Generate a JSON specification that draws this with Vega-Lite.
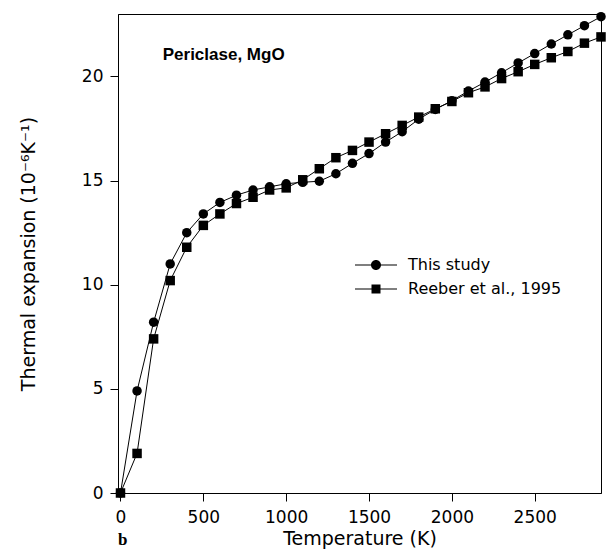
{
  "$schema": "https://vega.github.io/schema/vega-lite/v6.json",
  "width": 483,
  "height": 479,
  "autosize": {"type": "none"},
  "padding": {"left": 118, "top": 14, "right": 6, "bottom": 56},
  "background": "white",
  "title": {"text": "b", "orient": "bottom", "anchor": "start", "frame": "group", "font": "Liberation Serif", "fontWeight": "bold", "fontSize": 17, "color": "black", "dy": -20},
  "config": {
    "view": {"stroke": "black", "strokeWidth": 1},
    "axis": {"domainColor": "black", "tickColor": "black", "labelColor": "black", "titleColor": "black", "grid": false, "labelFont": "DejaVu Sans", "labelFontSize": 17, "titleFont": "DejaVu Sans", "titleFontWeight": "normal", "tickSize": 8}
  },
  "datasets": {
    "pts": [
    {"T": 0, "a": 0, "series": "This study"},
    {"T": 100, "a": 4.9, "series": "This study"},
    {"T": 200, "a": 8.2, "series": "This study"},
    {"T": 300, "a": 11.0, "series": "This study"},
    {"T": 400, "a": 12.5, "series": "This study"},
    {"T": 500, "a": 13.4, "series": "This study"},
    {"T": 600, "a": 13.95, "series": "This study"},
    {"T": 700, "a": 14.3, "series": "This study"},
    {"T": 800, "a": 14.55, "series": "This study"},
    {"T": 900, "a": 14.7, "series": "This study"},
    {"T": 1000, "a": 14.85, "series": "This study"},
    {"T": 1100, "a": 14.92, "series": "This study"},
    {"T": 1200, "a": 14.97, "series": "This study"},
    {"T": 1300, "a": 15.33, "series": "This study"},
    {"T": 1400, "a": 15.83, "series": "This study"},
    {"T": 1500, "a": 16.3, "series": "This study"},
    {"T": 1600, "a": 16.85, "series": "This study"},
    {"T": 1700, "a": 17.35, "series": "This study"},
    {"T": 1800, "a": 17.95, "series": "This study"},
    {"T": 1900, "a": 18.42, "series": "This study"},
    {"T": 2000, "a": 18.84, "series": "This study"},
    {"T": 2100, "a": 19.3, "series": "This study"},
    {"T": 2200, "a": 19.73, "series": "This study"},
    {"T": 2300, "a": 20.18, "series": "This study"},
    {"T": 2400, "a": 20.65, "series": "This study"},
    {"T": 2500, "a": 21.1, "series": "This study"},
    {"T": 2600, "a": 21.56, "series": "This study"},
    {"T": 2700, "a": 22.0, "series": "This study"},
    {"T": 2800, "a": 22.44, "series": "This study"},
    {"T": 2900, "a": 22.87, "series": "This study"},
    {"T": 0, "a": 0, "series": "Reeber et al., 1995"},
    {"T": 100, "a": 1.9, "series": "Reeber et al., 1995"},
    {"T": 200, "a": 7.4, "series": "Reeber et al., 1995"},
    {"T": 300, "a": 10.2, "series": "Reeber et al., 1995"},
    {"T": 400, "a": 11.8, "series": "Reeber et al., 1995"},
    {"T": 500, "a": 12.85, "series": "Reeber et al., 1995"},
    {"T": 600, "a": 13.4, "series": "Reeber et al., 1995"},
    {"T": 700, "a": 13.9, "series": "Reeber et al., 1995"},
    {"T": 800, "a": 14.2, "series": "Reeber et al., 1995"},
    {"T": 900, "a": 14.55, "series": "Reeber et al., 1995"},
    {"T": 1000, "a": 14.65, "series": "Reeber et al., 1995"},
    {"T": 1100, "a": 15.04, "series": "Reeber et al., 1995"},
    {"T": 1200, "a": 15.57, "series": "Reeber et al., 1995"},
    {"T": 1300, "a": 16.1, "series": "Reeber et al., 1995"},
    {"T": 1400, "a": 16.45, "series": "Reeber et al., 1995"},
    {"T": 1500, "a": 16.85, "series": "Reeber et al., 1995"},
    {"T": 1600, "a": 17.25, "series": "Reeber et al., 1995"},
    {"T": 1700, "a": 17.65, "series": "Reeber et al., 1995"},
    {"T": 1800, "a": 18.05, "series": "Reeber et al., 1995"},
    {"T": 1900, "a": 18.45, "series": "Reeber et al., 1995"},
    {"T": 2000, "a": 18.8, "series": "Reeber et al., 1995"},
    {"T": 2100, "a": 19.22, "series": "Reeber et al., 1995"},
    {"T": 2200, "a": 19.5, "series": "Reeber et al., 1995"},
    {"T": 2300, "a": 19.9, "series": "Reeber et al., 1995"},
    {"T": 2400, "a": 20.23, "series": "Reeber et al., 1995"},
    {"T": 2500, "a": 20.58, "series": "Reeber et al., 1995"},
    {"T": 2600, "a": 20.9, "series": "Reeber et al., 1995"},
    {"T": 2700, "a": 21.2, "series": "Reeber et al., 1995"},
    {"T": 2800, "a": 21.6, "series": "Reeber et al., 1995"},
    {"T": 2900, "a": 21.9, "series": "Reeber et al., 1995"}
    ],
    "labels": [{"label": "Periclase, MgO"}]
  },
  "resolve": {"scale": {"shape": "independent"}, "legend": {"shape": "independent"}},
  "layer": [
    {"data": {"name": "pts"}, "mark": {"type": "line", "color": "black", "strokeWidth": 1},
     "encoding": {
       "x": {"field": "T", "type": "quantitative", "scale": {"domain": [-15, 2900], "nice": false, "zero": false}, "axis": {"values": [0, 500, 1000, 1500, 2000, 2500], "format": "d", "title": "Temperature (K)", "titleFontSize": 19, "labelPadding": 8, "titlePadding": 4}},
       "y": {"field": "a", "type": "quantitative", "scale": {"domain": [0, 23], "nice": false}, "axis": {"values": [0, 5, 10, 15, 20], "title": "Thermal expansion (10⁻⁶K⁻¹)", "titleFontSize": 19, "labelPadding": 7, "titlePadding": 43}},
       "detail": {"field": "series"}}},
    {"data": {"name": "pts"}, "mark": {"type": "point", "filled": true, "color": "black", "opacity": 1, "size": 90},
     "encoding": {
       "x": {"field": "T", "type": "quantitative"},
       "y": {"field": "a", "type": "quantitative"},
       "shape": {"field": "series", "type": "nominal", "scale": {"domain": ["This study", "Reeber et al., 1995"], "range": ["circle", "square"]}, "legend": null}}},
    {"data": {"name": "pts"}, "transform": [{"filter": "false"}],
     "mark": {"type": "point", "filled": true, "color": "black", "opacity": 1},
     "encoding": {
       "x": {"field": "T", "type": "quantitative"},
       "y": {"field": "a", "type": "quantitative"},
       "shape": {"field": "series", "type": "nominal",
         "scale": {"domain": ["This study", "Reeber et al., 1995"], "range": ["M-4.2,-0.1H4.2V0.1H-4.2ZM1,0A1,1,0,1,1,-1,0A1,1,0,1,1,1,0Z", "M-4.2,-0.1H4.2V0.1H-4.2ZM-0.9,-0.9H0.9V0.9H-0.9Z"]},
         "legend": {"orient": "none", "legendX": 250, "legendY": 243, "title": null, "labelFont": "DejaVu Sans", "labelFontSize": 16, "labelColor": "black", "symbolSize": 100, "symbolStrokeWidth": 0, "symbolFillColor": "black", "labelOffset": 24, "rowPadding": 8, "padding": 0}}}},
    {"data": {"name": "labels"}, "mark": {"type": "text", "font": "Liberation Sans", "fontWeight": "bold", "fontSize": 17, "align": "left", "baseline": "alphabetic", "color": "black"},
     "encoding": {"text": {"field": "label"}, "x": {"datum": 255}, "y": {"datum": 20.8}}}
  ]
}
